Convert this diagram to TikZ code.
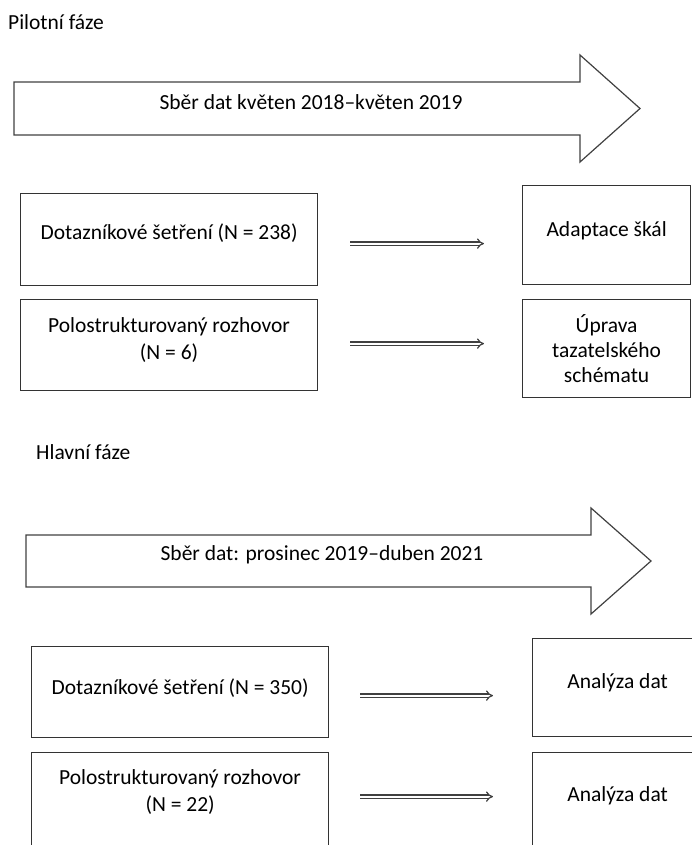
\documentclass[tikz,border=0pt]{standalone}
\usepackage{fontspec}
\setmainfont{Carlito}
\usetikzlibrary{arrows.meta,calc}
\begin{document}
\begin{tikzpicture}[x=1pt,y=-1pt,
  txt/.style={font=\fontsize{21.5}{27}\selectfont, inner sep=0pt, align=center, text=black},
  box/.style={draw=black!80, line width=1.2pt, anchor=north west, inner sep=0pt},
  bigarrow/.style={draw=black!75, line width=1.2pt, line join=miter},
  dbl/.style={draw=black!75, double=white, double distance=2.2pt, line width=1.2pt, -{Implies}}]
\useasboundingbox (0,0) rectangle (692,845);
\clip (0,0) rectangle (692,845);

% ---------- Pilot phase ----------
\node[txt, anchor=west] (pf) at (8,22) {Pilotní fáze};
\draw[bigarrow] (14,82) -- (580,82) -- (580,55) -- (640,108.5) -- (580,162) -- (580,135) -- (14,135) -- cycle;
\node[txt] (a1) at (311,102) {Sběr dat květen 2018–květen 2019};

\node[box, minimum width=297pt, minimum height=92pt,
  label={[txt, yshift=6pt]center:Dotazníkové šetření (N = 238)}] (d1) at (20,193) {};
\node[box, minimum width=297pt, minimum height=91pt,
  label={[txt, yshift=5pt]center:Polostrukturovaný rozhovor\\(N = 6)}] (p1) at (20,299) {};
\node[box, minimum width=168pt, minimum height=99pt,
  label={[txt, yshift=4pt]center:Adaptace škál}] (r1) at (522,185) {};
\node[box, minimum width=168pt, minimum height=98pt,
  label={[txt, font=\fontsize{21.5}{25}\selectfont]center:Úprava\\tazatelského\\schématu}] (r2) at (522,299) {};

\draw[dbl, shorten <=32pt, shorten >=38pt] ($(d1.east)+(0,4)$) -- ($(d1.east -| r1.west)+(0,4)$);
\draw[dbl, shorten <=32pt, shorten >=38pt] ($(p1.east)+(0,-1.5)$) -- ($(p1.east -| r2.west)+(0,-1.5)$);

% ---------- Main phase ----------
\node[txt, anchor=west] (hf) at (36,452) {Hlavní fáze};
\draw[bigarrow] (26,535) -- (591,535) -- (591,508) -- (651,561) -- (591,614) -- (591,587) -- (26,587) -- cycle;
\node[txt] (a2) at (322,555) {Sběr dat: prosinec 2019–duben 2021};

\node[box, minimum width=297pt, minimum height=91pt,
  label={[txt, yshift=4pt]center:Dotazníkové šetření (N = 350)}] (d2) at (31,646) {};
\node[box, minimum width=297pt, minimum height=95pt,
  label={[txt, yshift=8pt]center:Polostrukturovaný rozhovor\\(N = 22)}] (p2) at (31,752) {};
\node[box, minimum width=170pt, minimum height=98pt,
  label={[txt, yshift=5pt]center:Analýza dat}] (r3) at (532,638) {};
\node[box, minimum width=170pt, minimum height=95pt,
  label={[txt, yshift=4.5pt]center:Analýza dat}] (r4) at (532,752) {};

\draw[dbl, shorten <=31pt, shorten >=39pt] ($(d2.east)+(0,3.5)$) -- ($(d2.east -| r3.west)+(0,3.5)$);
\draw[dbl, shorten <=31pt, shorten >=39pt] ($(p2.east)+(0,-3.5)$) -- ($(p2.east -| r4.west)+(0,-3.5)$);
\end{tikzpicture}
\end{document}
